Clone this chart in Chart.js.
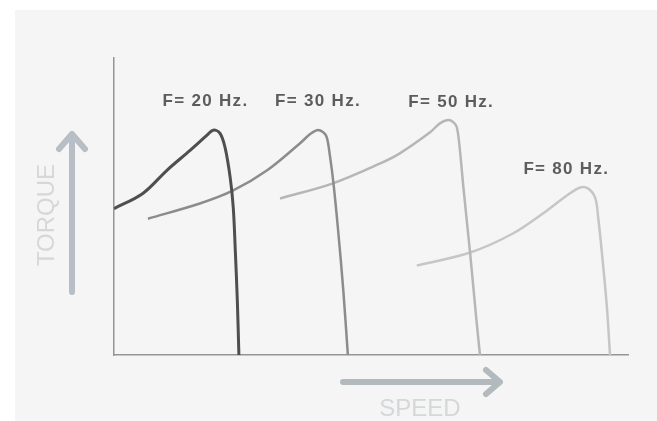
<!DOCTYPE html>
<html>
<head>
<meta charset="utf-8">
<script src="https://cdn.jsdelivr.net/npm/chart.js@4.4.1/dist/chart.umd.min.js"></script>
<style>
  body { margin: 0; background: #fff; }
  #wrap { width: 657px; height: 421px; }
</style>
</head>
<body>
<div id="wrap"><canvas id="myChart" width="657" height="421"></canvas></div>
<script>
// torque / speed curves (arbitrary units 0..100)
const seriesNames = ['F= 20 Hz.', 'F= 30 Hz.', 'F= 50 Hz.', 'F= 80 Hz.'];

const speed20 = [0, 5.6, 10.3, 14.8, 18.1, 19.3, 20.6, 21.6, 22.6, 23.2, 23.6, 24.0, 24.3];
const torque20 = [49.3, 54.4, 62.2, 68.9, 74.0, 75.7, 74.7, 69.9, 59.8, 49.7, 35.1, 18.0, 0];

const speed30 = [6.6, 16.7, 23.2, 29.8, 36.2, 38.1, 39.5, 40.7, 41.4, 42.0, 42.7, 43.6, 44.6, 45.5];
const torque30 = [45.9, 51.0, 55.4, 62.2, 71.3, 74.3, 75.7, 75.0, 73.3, 67.2, 57.8, 42.0, 22.0, 0];

const speed50 = [32.3, 42.6, 51.8, 55.6, 61.5, 63.4, 65.0, 66.0, 66.7, 67.3, 68.0, 69.3, 70.5, 71.2];
const torque50 = [52.7, 57.8, 64.5, 67.9, 75.0, 78.0, 79.1, 78.4, 76.7, 68.9, 56.0, 34.0, 12.0, 0];

const speed80 = [58.9, 69.3, 77.6, 84.2, 88.1, 90.7, 92.2, 93.6, 94.2, 95.0, 95.9, 96.5];
const torque80 = [30.1, 34.5, 40.9, 48.6, 53.7, 56.4, 56.1, 53.0, 46.3, 33.0, 16.0, 0];

// where each curve's label sits (same units)
const labelSpeed = [17.8, 39.7, 65.6, 88.0];
const labelTorque = [85.5, 85.5, 85.0, 62.5];

const lineColors = ['#4f4f4f', '#8c8c8c', '#b6b6b6', '#c6c6c6'];

function toPoints(xs, ys) {
  return xs.map((x, i) => ({ x: x, y: ys[i] }));
}

const allSpeeds = [speed20, speed30, speed50, speed80];
const allTorques = [torque20, torque30, torque50, torque80];

const decorations = {
  id: 'decorations',
  beforeDraw(chart) {
    const c = chart.ctx;
    c.save();
    c.fillStyle = '#f5f5f5';
    c.fillRect(15, 10, chart.width - 15, chart.height - 10);
    c.restore();
  },
  afterDraw(chart) {
    const c = chart.ctx;
    const xs = chart.scales.x;
    const ys = chart.scales.y;
    c.save();

    // curve labels
    c.font = 'bold 17px "Liberation Sans", Arial, sans-serif';
    c.letterSpacing = '1.3px';
    c.fillStyle = '#5c5c5c';
    c.textAlign = 'center';
    c.textBaseline = 'middle';
    seriesNames.forEach((name, i) => {
      c.fillText(name, xs.getPixelForValue(labelSpeed[i]), ys.getPixelForValue(labelTorque[i]));
    });

    // TORQUE arrow (up)
    c.strokeStyle = '#b7bec5';
    c.lineWidth = 6;
    c.lineCap = 'round';
    c.lineJoin = 'round';
    c.beginPath();
    c.moveTo(72, 292);
    c.lineTo(72, 138);
    c.stroke();
    c.beginPath();
    c.moveTo(59, 149);
    c.lineTo(72, 134);
    c.lineTo(85, 149);
    c.stroke();

    // SPEED arrow (right)
    c.strokeStyle = '#b3babe';
    c.beginPath();
    c.moveTo(343, 382);
    c.lineTo(496, 382);
    c.stroke();
    c.beginPath();
    c.moveTo(486, 370);
    c.lineTo(500, 382);
    c.lineTo(486, 394);
    c.stroke();

    // axis names
    c.letterSpacing = '0px';
    c.font = '24px "Liberation Sans", Arial, sans-serif';
    c.fillStyle = '#d5d7d9';
    c.fillText('SPEED', 420, 409);
    c.translate(47, 215);
    c.rotate(-Math.PI / 2);
    c.fillText('TORQUE', 0, 0);
    c.restore();
  }
};

const ctx = document.getElementById('myChart');

new Chart(ctx, {
  type: 'scatter',
  data: {
    datasets: seriesNames.map((name, i) => ({
      label: name,
      data: toPoints(allSpeeds[i], allTorques[i]),
      showLine: true,
      borderColor: lineColors[i],
      borderWidth: i === 0 ? 3 : 2.5,
      pointRadius: 0,
      tension: 0.35,
      fill: false
    }))
  },
  options: {
    responsive: false,
    animation: false,
    devicePixelRatio: 1,
    layout: { padding: { left: 106, right: 29, top: 58, bottom: 58 } },
    plugins: {
      legend: { display: false },
      tooltip: { enabled: false }
    },
    scales: {
      x: {
        type: 'linear',
        min: 0,
        max: 100,
        ticks: { display: false },
        grid: { display: false },
        border: { display: true, color: '#959595', width: 1.5 }
      },
      y: {
        type: 'linear',
        min: 0,
        max: 100,
        ticks: { display: false },
        grid: { display: false },
        border: { display: true, color: '#959595', width: 1.5 }
      }
    }
  },
  plugins: [decorations]
});
</script>
</body>
</html>
